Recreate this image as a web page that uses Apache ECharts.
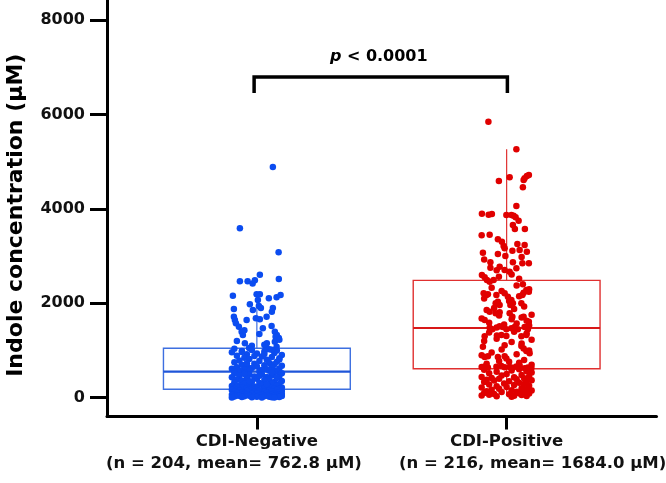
<!DOCTYPE html>
<html>
<head>
<meta charset="utf-8">
<script src="https://cdn.jsdelivr.net/npm/echarts@6/dist/echarts.min.js"></script>
<style>
html,body{margin:0;padding:0;background:#fff;}
#chart{width:666px;height:483px;}
</style>
</head>
<body>
<div id="chart"></div>
<script>
// ---------- data ----------
const categories = ['CDI-Negative', 'CDI-Positive'];
const categorySubtitles = ['(n = 204, mean= 762.8 µM)', '(n = 216, mean= 1684.0 µM)'];
const yTickValues = [0, 2000, 4000, 6000, 8000];
const pLabel = 'p < 0.0001';

// box statistics: [lower whisker, Q1, median, Q3, upper whisker]
const negBox = [5, 178, 551, 1047, 2218];
const posBox = [36, 614, 1477, 2487, 5263];

// CDI-Negative points (values and horizontal jitter)
const negHigh = [4888,3589,3080,2606,2470,2470,2420,2490,2515,2160,2190,2190,2105,2127,2176,2070,1979,1943,1880,1858,1900,1900,1822,1716,1646,1576,1646,1682,1661,1716,1504,1398,1328,1470,1519,1398,1328,1265,1292,1152,1055,1152,1060,1186,1080,1100,1120,1200,1230,1350,1430];
const negHighX = [0.064,-0.068,0.087,0.012,-0.068,-0.037,-0.017,-0.008,0.088,-0.096,-0.001,0.012,0.048,0.079,0.095,0.004,-0.028,0.008,-0.092,-0.016,0.016,0.064,0.06,-0.092,-0.088,-0.084,-0.041,-0.004,0.012,0.039,-0.072,-0.061,-0.056,0.024,0.059,0.072,0.08,0.088,0.075,-0.048,-0.031,0.04,0.036,0.072,0.079,-0.02,0.03,-0.08,0.09,0.01,-0.05];
const negMid2 = [1040,1025,1012,998,991,978,962,947,936,921,905,888,872,861,848,836,822,803,791,776,762,751,737,722,709,698,687,676,668,659,648,641,629,618,612,603,596,589,584,579,573,569,564,560,556,1018,968,927,883,812,731];
const negMid2X = [-0.09,0.05,-0.02,0.08,-0.06,0.03,-0.1,0.07,0.0,-0.04,0.1,-0.08,0.02,0.06,-0.05,0.09,-0.03,0.04,-0.07,0.01,0.08,-0.09,0.05,-0.01,0.07,-0.06,0.03,0.1,-0.04,0.0,-0.08,0.06,-0.02,0.09,-0.1,0.04,-0.05,0.02,0.07,-0.07,0.05,-0.03,0.08,-0.09,0.01,0.06,-0.06,0.03,-0.01,0.09,-0.04];
const negMid1 = [545,532,519,511,498,489,477,468,461,449,438,431,419,408,401,394,386,373,366,354,346,333,327,314,306,298,291,279,268,262,251,246,239,236,229,224,219,214,209,204,199,196,191,186,182,541,503,466,427,351,283];
const negMid1X = [0.07,-0.05,0.1,-0.09,0.02,-0.03,0.06,-0.07,0.09,-0.01,0.04,-0.1,0.08,-0.04,0.0,0.05,-0.08,0.03,-0.06,0.1,-0.02,0.07,-0.09,0.01,0.06,-0.05,0.09,-0.03,0.02,-0.07,0.08,-0.1,0.04,-0.01,0.05,-0.06,0.1,-0.08,0.0,0.03,-0.04,0.07,-0.02,0.09,-0.09,0.06,-0.05,0.01,0.08,-0.03,0.04];
const negLow = [176,171,163,159,154,149,144,141,136,129,124,121,116,109,104,99,96,91,86,81,77,74,71,69,67,64,61,59,57,54,51,49,47,44,41,39,37,34,31,29,27,24,22,19,17,14,11,9,7,5,3];
const negLowX = [-0.03,0.08,-0.1,0.05,0.01,-0.07,0.1,-0.04,0.06,-0.09,0.03,-0.01,0.09,-0.06,0.04,-0.08,0.07,0.0,-0.05,0.1,-0.02,0.05,-0.09,0.08,-0.04,0.02,-0.1,0.06,-0.06,0.09,0.01,-0.08,0.04,-0.03,0.07,-0.07,0.1,-0.01,0.03,-0.05,0.08,-0.09,0.05,0.0,-0.06,0.09,-0.02,0.06,-0.1,0.02,0.07];

// CDI-Positive points (values and horizontal jitter)
const posHigh = [5847,5263,4591,4669,4648,4697,4718,4612,4458,4061,3898,3877,3892,3870,3870,3856,3822,3750,3659,3574,3574,3441,3454,3356,3305,3214,3165,3256,3235,3129,3093,3072,3044,3002,3114,2868,2754,2868,2741,2847,2847,2775,2705,2669,2600,2550,2494,2494,2564,2520,2610,2930,2980,2700];
const posHighX = [-0.073,0.039,-0.031,0.012,0.072,0.081,0.089,0.068,0.065,0.039,-0.099,-0.072,-0.059,-0.001,0.019,0.028,0.036,0.048,0.025,0.033,0.073,-0.1,-0.068,-0.035,-0.019,-0.012,-0.008,0.043,0.072,0.052,0.081,-0.095,-0.035,-0.005,0.023,-0.065,-0.065,0.025,0.039,0.063,0.089,-0.028,-0.008,0.012,-0.099,-0.088,-0.079,-0.052,-0.031,0.05,0.02,-0.09,0.06,-0.04];
const posMid2 = [2458,2402,2282,2246,2225,2212,2176,2191,2176,2034,2000,1964,2212,2140,2070,2000,1964,2176,2000,1822,1788,1809,1788,1716,1716,1610,1646,1480,1515,1500,1500,1500,2380,2330,2300,2260,2150,2100,2050,1930,1900,1880,1860,1760,1740,1700,1680,1660,1630,1590,1570,1550,1530,1490];
const posMid2X = [-0.068,0.065,0.079,0.089,0.068,-0.092,-0.081,-0.075,-0.041,-0.035,-0.044,-0.028,-0.008,0.005,0.019,0.025,0.015,0.063,0.059,-0.068,-0.044,-0.028,0.012,0.023,0.068,0.089,-0.088,-0.068,-0.028,-0.015,0.032,0.072,0.04,-0.06,0.09,-0.02,0.05,-0.09,0.01,0.07,-0.05,0.03,-0.08,0.1,-0.03,0.06,-0.1,0.02,0.08,-0.07,0.04,-0.01,0.09,-0.04];
const posMid1 = [1450,1450,1470,1450,1450,1300,1320,1330,1310,1300,1330,1080,1110,1095,1045,990,940,860,880,860,880,830,650,660,640,655,670,645,650,635,660,680,625,640,630,1400,1380,1360,1250,1230,1200,1180,1150,1020,1000,960,920,900,800,780,760,740,720,700];
const posMid1X = [-0.057,-0.001,0.019,0.045,0.085,-0.088,-0.039,-0.021,-0.001,0.059,0.079,-0.095,-0.008,0.059,0.068,0.079,0.092,-0.088,-0.075,-0.035,-0.008,-0.001,-0.1,-0.088,-0.075,-0.041,-0.021,-0.008,0.012,0.025,0.039,0.052,0.072,0.085,0.099,0.03,-0.07,0.08,-0.04,0.1,-0.09,0.02,0.06,-0.02,0.09,-0.06,0.04,-0.1,0.07,-0.03,0.01,0.05,-0.08,0.1];
const posLow = [603,591,578,562,548,533,519,502,483,468,452,441,433,418,412,401,392,381,372,363,351,342,331,318,302,289,281,268,252,241,229,218,203,191,179,168,158,151,139,128,119,108,99,94,88,79,71,62,56,49,44,38,29,21];
const posLowX = [0.05,-0.09,0.02,0.08,-0.04,0.1,-0.07,0.0,0.06,-0.02,0.09,-0.1,0.03,-0.06,0.07,-0.03,0.04,-0.08,0.1,-0.05,0.01,0.08,-0.09,0.05,-0.01,0.07,-0.07,0.03,0.09,-0.04,0.0,-0.1,0.06,-0.03,0.08,-0.06,0.02,0.1,-0.08,0.04,-0.02,0.07,-0.09,0.05,0.09,-0.05,0.01,-0.07,0.06,-0.1,0.03,0.08,-0.04,0.02];

// significance bracket (category positions and heights in data units)
const bracketX = [0.989, 2.003];
const bracketY = [6455, 6794];
const pLabelPos = [1.488, 7229];

// ---------- build ----------
function pts(center, xs, vs) {
  const out = [];
  const n = Math.min(xs.length, vs.length);
  for (let i = 0; i < n; i++) out.push([center + xs[i], vs[i]]);
  return out;
}
const negPoints = [].concat(pts(1, negHighX, negHigh), pts(1, negMid2X, negMid2), pts(1, negMid1X, negMid1), pts(1, negLowX, negLow));
const posPoints = [].concat(pts(2, posHighX, posHigh), pts(2, posMid2X, posMid2), pts(2, posMid1X, posMid1), pts(2, posLowX, posLow));

const FONT = 'DejaVu Sans';
const BOX_HALF = 0.374;
const boxColors = [{stroke: '#3d6fe0', median: '#1f55d8'}, {stroke: '#e03030', median: '#d81818'}];

const chart = echarts.init(document.getElementById('chart'), null, {renderer: 'canvas'});

const option = {
  backgroundColor: '#ffffff',
  animation: false,
  grid: {left: 107, right: 9.5, top: 0, bottom: 66.5, containLabel: false, outerBoundsMode: 'none'},
  xAxis: {
    type: 'value', min: 0.4, max: 2.6,
    splitLine: {show: false},
    axisLine: {onZero: false, lineStyle: {color: '#000', width: 3}},
    axisTick: {customValues: [1, 2], length: 13, lineStyle: {color: '#000', width: 3}},
    axisLabel: {
      customValues: [1, 2],
      formatter: v => categories[Math.round(v) - 1],
      fontFamily: FONT, fontWeight: 'bold', fontSize: 16.5, color: '#111', margin: 17
    }
  },
  yAxis: {
    type: 'value', min: -398, max: 8426,
    splitLine: {show: false},
    axisLine: {onZero: false, lineStyle: {color: '#000', width: 3}},
    axisTick: {customValues: yTickValues, length: 17, lineStyle: {color: '#000', width: 3}},
    axisLabel: {
      customValues: yTickValues, formatter: v => String(Math.round(v)),
      fontFamily: FONT, fontWeight: 'bold', fontSize: 16, color: '#111', margin: 22
    },
    name: 'Indole concentration (µM)',
    nameLocation: 'middle', nameGap: 80, nameRotate: 90,
    nameTextStyle: {fontFamily: FONT, fontWeight: 'bold', fontSize: 22, color: '#000', padding: [0, 14, 0, 0]}
  },
  series: [
    {
      type: 'custom',
      z: 1,
      data: [[1].concat(negBox), [2].concat(posBox)],
      encode: {x: 0, y: [1, 2, 3, 4, 5]},
      renderItem: function (params, api) {
        const x = api.value(0);
        const c = boxColors[params.dataIndex];
        const cx = api.coord([x, 0])[0];
        const l = api.coord([x - BOX_HALF, 0])[0];
        const r = api.coord([x + BOX_HALF, 0])[0];
        const y = i => api.coord([x, api.value(i)])[1];
        const yMin = y(1), yQ1 = y(2), yMed = y(3), yQ3 = y(4), yMax = y(5);
        return {
          type: 'group',
          children: [
            {type: 'line', shape: {x1: cx, y1: yQ3, x2: cx, y2: yMax}, style: {stroke: c.stroke, lineWidth: 1.2}},
            {type: 'line', shape: {x1: cx, y1: yQ1, x2: cx, y2: yMin}, style: {stroke: c.stroke, lineWidth: 1.2}},
            {type: 'rect', shape: {x: l, y: yQ3, width: r - l, height: yQ1 - yQ3}, style: {fill: 'none', stroke: c.stroke, lineWidth: 1.4}},
            {type: 'line', shape: {x1: l, y1: yMed, x2: r, y2: yMed}, style: {stroke: c.median, lineWidth: 2.2}}
          ]
        };
      }
    },
    {
      type: 'scatter', z: 3, data: negPoints, symbolSize: 6.5,
      itemStyle: {color: '#0b4cf0', opacity: 1}
    },
    {
      type: 'scatter', z: 3, data: posPoints, symbolSize: 6.5,
      itemStyle: {color: '#e00000', opacity: 1}
    },
    {
      type: 'line', z: 4, symbol: 'none', silent: true,
      data: [[bracketX[0], bracketY[0]], [bracketX[0], bracketY[1]], [bracketX[1], bracketY[1]], [bracketX[1], bracketY[0]]],
      lineStyle: {color: '#000', width: 3.5, join: 'miter', cap: 'butt'}
    },
    {
      type: 'scatter', z: 4, symbolSize: 0, silent: true,
      itemStyle: {opacity: 1},
      data: [pLabelPos],
      label: {
        show: true, position: 'inside', opacity: 1,
        formatter: '{i|p}{n| < 0.0001}',
        rich: {
          i: {fontFamily: FONT, fontWeight: 'bold', fontStyle: 'italic', fontSize: 16, color: '#000'},
          n: {fontFamily: FONT, fontWeight: 'bold', fontSize: 16, color: '#000'}
        }
      }
    }
  ]
};
chart.setOption(option);

// second line of each category label (placed from axis coordinates)
const subOffsets = [-0.092, 0.104];
const graphics = categorySubtitles.map((t, i) => {
  const px = chart.convertToPixel({xAxisIndex: 0}, i + 1 + subOffsets[i]);
  return {
    type: 'text', x: px, y: 464,
    style: {text: t, fontFamily: FONT, fontWeight: 'bold', fontSize: 16.5, fill: '#111', textAlign: 'center', textVerticalAlign: 'middle'}
  };
});
chart.setOption({graphic: graphics});
</script>
</body>
</html>
